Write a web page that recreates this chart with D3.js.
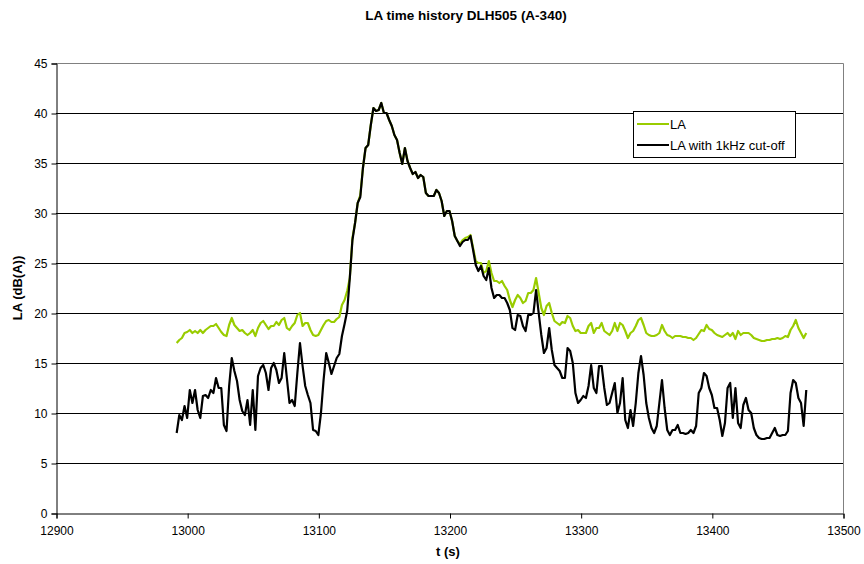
<!DOCTYPE html>
<html><head><meta charset="utf-8">
<script src="https://cdn.jsdelivr.net/npm/d3@7/dist/d3.min.js"></script>
<style>body{margin:0;background:#fff} text{font-family:Arial,"Liberation Sans",sans-serif;fill:#000}</style>
</head><body><svg id="c" width="864" height="564"></svg>
<script>
const times = [12992,12994,12996,12998,13000,13002,13004,13006,13008,13010,13012,13014,13016,13018,13020,13022,13024,13026,13028,13030,
13032,13034,13036,13038,13040,13042,13044,13046,13048,13050,13052,13054,13056,13058,13060,13062,13064,13066,13068,13070,
13072,13074,13076,13078,13080,13082,13084,13086,13088,13090,13092,13094,13096,13098,13100,13102,13104,13106,13108,13110,
13112,13114,13116,13118,13120,13122,13124,13126,13128,13130,13132,13134,13136,13138,13140,13142,13144,13146,13148,13150,
13152,13154,13156,13158,13160,13162,13164,13166,13168,13170,13172,13174,13176,13178,13180,13182,13184,13186,13188,13190,
13192,13194,13196,13198,13200,13202,13204,13206,13208,13210,13212,13214,13216,13218,13220,13222,13224,13226,13228,13230,
13232,13234,13236,13238,13240,13242,13244,13246,13248,13250,13252,13254,13256,13258,13260,13262,13264,13266,13268,13270,
13272,13274,13276,13278,13280,13282,13284,13286,13288,13290,13292,13294,13296,13298,13300,13302,13304,13306,13308,13310,
13312,13314,13316,13318,13320,13322,13324,13326,13328,13330,13332,13334,13336,13338,13340,13342,13344,13346,13348,13350,
13352,13354,13356,13358,13360,13362,13364,13366,13368,13370,13372,13374,13376,13378,13380,13382,13384,13386,13388,13390,
13392,13394,13396,13398,13400,13402,13404,13406,13408,13410,13412,13414,13416,13418,13420,13422,13424,13426,13428,13430,
13432,13434,13436,13438,13440,13442,13444,13446,13448,13450,13452,13454,13456,13458,13460,13462,13464,13466,13468,13470,
13472];

const laValues = [17.0,17.3,17.5,18.0,18.1,18.3,18.0,18.2,18.0,18.3,18.0,18.3,18.5,18.7,18.7,18.9,18.5,18.1,17.8,17.7,
18.8,19.5,18.8,18.5,18.2,18.3,18.0,17.8,18.0,18.3,17.7,18.5,19.0,19.2,18.8,18.4,18.7,18.7,19.1,18.8,
19.3,19.5,18.5,18.3,18.7,19.0,19.8,20.0,18.7,19.0,19.0,18.3,17.8,17.7,17.8,18.3,18.8,19.2,19.3,19.1,
19.1,19.4,19.6,20.8,21.3,22.2,23.5,27.5,29.0,31.0,31.8,34.5,36.5,36.8,38.8,40.5,40.2,40.3,41.0,40.0,
40.0,39.3,38.7,37.8,37.3,36.0,34.9,36.5,35.2,34.5,33.9,34.1,33.5,33.8,33.6,32.0,31.7,31.7,31.7,32.3,
32.0,31.2,29.7,30.2,30.2,29.2,27.7,27.2,26.9,27.3,27.5,27.6,27.8,26.5,25.2,25.0,25.0,24.0,24.2,25.2,
24.0,23.2,23.2,23.0,23.2,22.7,22.3,21.3,20.6,21.3,21.8,21.5,21.0,21.2,22.0,22.0,22.3,23.5,22.0,20.5,
19.8,20.7,21.0,20.0,19.2,19.0,18.8,19.1,19.0,19.7,19.5,18.7,18.2,18.3,18.0,18.0,18.0,18.7,19.0,18.0,
18.5,18.5,19.0,18.2,18.0,17.8,18.2,19.0,18.2,19.0,18.8,18.2,17.5,18.0,18.2,18.7,19.3,19.5,18.8,18.0,
17.8,17.7,17.7,17.8,18.0,18.8,18.2,17.8,17.7,17.5,17.7,17.7,17.7,17.6,17.6,17.5,17.5,17.3,17.5,17.9,
18.3,18.2,18.8,18.4,18.3,18.0,17.8,17.7,17.6,17.8,18.0,17.7,18.0,17.4,18.2,17.8,18.0,18.0,18.0,17.8,
17.5,17.4,17.3,17.2,17.2,17.3,17.3,17.4,17.4,17.5,17.4,17.5,17.7,17.6,18.3,18.7,19.3,18.5,18.0,17.5,
18.0];

const laCutValues = [8.0,9.8,9.3,10.7,9.5,12.3,11.0,12.3,10.3,9.5,11.7,11.8,11.5,12.3,12.0,13.5,12.5,12.5,8.8,8.2,
12.7,15.5,14.2,13.2,11.3,10.2,9.8,11.3,8.8,12.3,8.3,13.7,14.5,14.8,14.0,12.3,14.5,15.0,14.3,13.0,
13.5,16.0,13.5,11.0,11.3,10.7,14.0,17.0,14.7,12.7,11.8,11.0,8.3,8.2,7.8,10.0,13.3,16.0,15.0,13.9,
14.7,15.5,15.9,17.7,18.9,20.2,23.5,27.3,29.0,31.0,31.6,34.5,36.5,36.8,38.8,40.5,40.2,40.3,41.0,40.0,
40.0,39.3,38.7,37.8,37.3,36.0,34.9,36.5,35.2,34.5,33.9,34.1,33.5,33.8,33.6,32.0,31.7,31.7,31.7,32.3,
32.0,31.2,29.7,30.2,30.2,29.2,27.7,27.2,26.7,27.1,27.3,27.3,27.7,26.3,24.8,24.2,24.7,23.7,23.3,24.5,
22.5,21.5,21.8,21.8,21.5,21.5,21.0,20.3,18.5,18.3,19.8,19.7,18.7,18.2,19.8,19.8,20.0,22.3,20.0,17.8,
16.0,16.5,18.5,16.3,14.8,14.5,14.2,13.5,13.5,16.5,16.2,15.0,12.0,11.0,11.3,11.7,11.5,12.7,14.8,12.5,
12.0,14.7,14.7,12.5,10.8,11.0,12.0,13.0,10.0,11.0,13.5,9.3,8.5,10.3,8.7,11.0,14.0,15.7,13.8,11.0,
9.5,8.5,8.0,8.7,11.0,13.3,10.5,8.3,7.8,8.3,8.3,8.8,8.0,8.0,7.9,8.0,8.3,8.0,8.7,12.0,
12.5,14.0,13.7,12.5,11.8,10.5,10.5,9.3,7.7,9.0,12.5,13.0,9.5,12.5,9.0,8.5,10.8,11.5,10.3,10.0,
8.5,7.8,7.5,7.4,7.4,7.5,7.5,8.0,8.5,7.8,7.7,7.8,7.8,8.2,12.0,13.3,13.0,11.5,11.0,8.7,
12.3];

const xTicks = [12900,13000,13100,13200,13300,13400,13500];
const yTicks = [0,5,10,15,20,25,30,35,40,45];
const seriesNames = ["LA","LA with 1kHz cut-off"];
const seriesColors = ["#99cc00","#000000"];
const titleText = "LA time history DLH505 (A-340)";
const xLabel = "t (s)";
const yLabel = "LA (dB(A))";

const svg = d3.select("#c");
const L = 56, R = 843, T = 63, B = 513;
const x = d3.scaleLinear().domain([12900,13500]).range([L,R]);
const y = d3.scaleLinear().domain([0,45]).range([B,T]);

// gridlines
svg.append("g").selectAll("line").data(yTicks.filter(v=>v>0 && v<45)).join("line")
  .attr("x1",L).attr("x2",R).attr("y1",d=>y(d)+0.5).attr("y2",d=>y(d)+0.5)
  .attr("stroke","#000").attr("stroke-width",1);
// plot border (top, right)
svg.append("path").attr("d",`M${L},${y(45)+0.5}H${R+0.5}V${B}`).attr("fill","none").attr("stroke","#808080").attr("stroke-width",1);

// axes
const yAxis = d3.axisLeft(y).tickValues(yTicks).tickSize(5).tickPadding(4).tickFormat(d3.format("d"));
const gy = svg.append("g").attr("transform",`translate(${L+0.5},0.5)`).call(yAxis);
gy.select(".domain").attr("stroke","#000");
gy.selectAll(".tick line").attr("stroke","#000");
gy.selectAll("text").attr("font-size",12).attr("font-family","Arial, Liberation Sans, sans-serif");

const xAxis = d3.axisBottom(x).tickValues(xTicks).tickSize(5).tickPadding(8).tickFormat(d3.format("d"));
const gx = svg.append("g").attr("transform",`translate(0.5,${B+0.5})`).call(xAxis);
gx.select(".domain").attr("stroke","#000");
gx.selectAll(".tick line").attr("stroke","#000");
gx.selectAll("text").attr("font-size",12).attr("font-family","Arial, Liberation Sans, sans-serif");

// lines
const line = d3.line().x((d,i)=>x(times[i])).y(d=>y(d));
[laValues, laCutValues].forEach((vals,k)=>{
  svg.append("path").datum(vals).attr("d",line).attr("fill","none")
    .attr("stroke",seriesColors[k]).attr("stroke-width",2.2).attr("stroke-linejoin","round");
});

// titles
svg.append("text").attr("x",466).attr("y",20).attr("text-anchor","middle")
  .attr("font-size",13.5).attr("font-weight","bold").text(titleText);
svg.append("text").attr("x",448).attr("y",556).attr("text-anchor","middle")
  .attr("font-size",13).attr("font-weight","bold").text(xLabel);
svg.append("text").attr("transform","translate(22,288) rotate(-90)").attr("text-anchor","middle")
  .attr("font-size",13).attr("font-weight","bold").text(yLabel);

// legend
const lg = svg.append("g");
lg.append("rect").attr("x",633.5).attr("y",111.5).attr("width",162).attr("height",46)
  .attr("fill","#fff").attr("stroke","#000").attr("stroke-width",1);
seriesNames.forEach((n,k)=>{
  const yy = 124 + k*21;
  lg.append("line").attr("x1",637).attr("x2",669).attr("y1",yy).attr("y2",yy)
    .attr("stroke",seriesColors[k]).attr("stroke-width",2);
  lg.append("text").attr("x",670).attr("y",yy+4.5).attr("font-size",13).text(n);
});
</script></body></html>
